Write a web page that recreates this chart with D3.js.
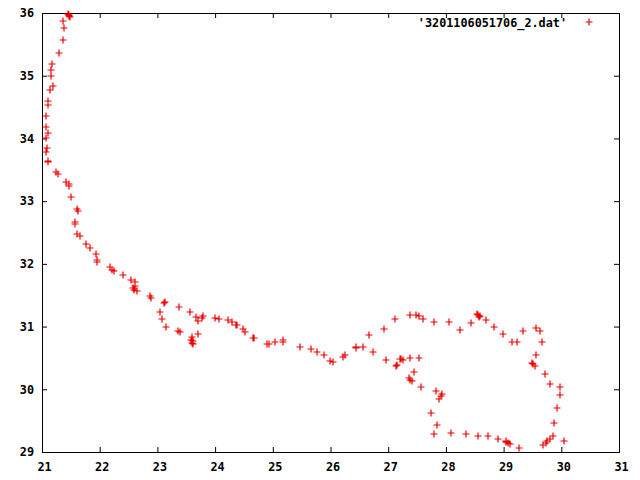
<!DOCTYPE html>
<html lang="en">
<head>
<meta charset="utf-8">
<title>3201106051706_2.dat</title>
<script src="https://cdn.jsdelivr.net/npm/d3@7"></script>
<style>
  body { margin: 0; padding: 0; background: #fff; overflow: hidden; }
  .tick text { font-family: "DejaVu Sans Mono", monospace; font-weight: bold; font-size: 11.8px; fill: #000; }
  .tick line { stroke: #000; stroke-width: 1px; }
  .frame { fill: none; stroke: #000; stroke-width: 1px; }
  .key { font-family: "DejaVu Sans Mono", monospace; font-weight: bold; font-size: 11.8px; }
</style>
</head>
<body>
<script>
// track points
var xs = [21.47,21.49,21.45,21.47,21.46,21.37,21.38,21.36,21.30,21.17,21.16,21.15,21.19,21.14,
  21.11,21.11,21.07,21.07,21.11,21.07,21.08,21.07,21.10,21.10,21.25,21.28,21.42,21.47,21.46,21.51,
  21.60,21.62,21.57,21.58,21.60,21.65,21.77,21.84,21.93,21.95,21.96,
  22.17,22.21,22.25,22.41,22.54,22.62,22.61,22.57,22.59,22.64,22.87,22.89,23.13,23.12,23.38,
  23.05,23.08,23.15,23.56,23.67,23.71,23.79,23.77,23.35,23.39,23.60,23.61,23.62,23.60,23.58,23.71,
  24.00,24.07,24.23,24.29,24.36,24.38,24.48,24.52,24.65,24.67,24.90,24.93,25.03,25.17,25.18,
  25.48,25.66,25.76,25.88,25.99,26.05,26.22,26.25,26.44,26.44,26.56,26.66,26.74,26.93,26.97,
  27.11,27.14,27.15,27.21,27.23,27.26,27.38,27.53,27.37,27.49,27.53,27.60,27.79,28.06,28.25,
  27.45,27.38,27.41,27.36,27.56,27.83,27.94,27.92,27.88,27.75,27.85,27.79,28.09,28.35,28.55,
  28.73,28.91,29.05,29.08,29.11,29.04,29.27,28.44,28.56,28.59,28.57,28.54,28.69,28.84,28.99,
  29.15,29.23,29.34,29.57,29.63,29.66,29.57,29.49,29.51,29.55,29.72,29.81,29.97,29.97,29.93,
  29.88,29.86,29.81,29.76,29.73,29.68,30.05];
var ys = [35.97,35.94,35.98,35.96,35.95,35.88,35.76,35.57,35.37,35.18,35.09,34.99,34.84,34.77,
  34.59,34.53,34.36,34.18,34.09,34.00,33.85,33.78,33.64,33.62,33.47,33.43,33.31,33.24,33.27,33.07,
  32.87,32.85,32.67,32.64,32.48,32.44,32.31,32.25,32.15,32.06,32.03,
  31.95,31.91,31.88,31.82,31.75,31.71,31.65,31.61,31.59,31.57,31.49,31.46,31.39,31.37,31.31,
  31.24,31.12,31.00,31.23,31.15,31.09,31.17,31.14,30.93,30.91,30.83,30.77,30.73,30.74,30.78,30.88,
  31.14,31.12,31.10,31.08,31.03,31.02,30.96,30.92,30.81,30.81,30.72,30.73,30.76,30.78,30.75,
  30.68,30.64,30.60,30.54,30.45,30.43,30.52,30.54,30.68,30.66,30.68,30.86,30.60,30.96,30.46,
  31.12,30.37,30.39,30.48,30.49,30.47,30.50,30.50,31.18,31.19,31.17,31.12,31.08,31.07,30.94,
  30.27,30.15,30.14,30.18,30.04,29.97,29.92,29.89,29.84,29.62,29.43,29.28,29.30,29.28,29.25,
  29.25,29.21,29.16,29.14,29.12,29.17,29.07,31.05,31.18,31.17,31.15,31.20,31.10,31.00,30.88,
  30.76,30.76,30.93,30.98,30.93,30.75,30.55,30.42,30.41,30.37,30.25,30.08,30.03,29.91,29.70,
  29.47,29.26,29.21,29.18,29.14,29.11,29.17];
var xTicks = [21,22,23,24,25,26,27,28,29,30,31];
var yTicks = [29,30,31,32,33,34,35,36];
var keyLabel = "'3201106051706_2.dat'";

var svg = d3.select('body').append('svg')
    .attr('width', 640)
    .attr('height', 480);

var x = d3.scaleLinear().domain([21, 31]).range([42, 619]);
var y = d3.scaleLinear().domain([29, 36]).range([452, 13]);

// axes, ticks point inwards and are mirrored on top/right
svg.append('g')
    .attr('transform', 'translate(0,452)')
    .call(d3.axisBottom(x).tickValues(xTicks).tickFormat(d3.format('d'))
      .tickSizeInner(-5).tickSizeOuter(0).tickPadding(11))
    .call(g => g.select('.domain').remove())
    .selectAll('text').attr('dx', 2);

svg.append('g')
    .attr('transform', 'translate(0,13)')
    .call(d3.axisTop(x).tickValues(xTicks).tickFormat('')
      .tickSizeInner(-5).tickSizeOuter(0))
    .call(g => g.select('.domain').remove());

svg.append('g')
    .attr('transform', 'translate(42,0)')
    .call(d3.axisLeft(y).tickValues(yTicks).tickFormat(d3.format('d'))
      .tickSizeInner(-5).tickSizeOuter(0).tickPadding(8))
    .call(g => g.select('.domain').remove());

svg.append('g')
    .attr('transform', 'translate(619,0)')
    .call(d3.axisRight(y).tickValues(yTicks).tickFormat('')
      .tickSizeInner(-5).tickSizeOuter(0))
    .call(g => g.select('.domain').remove());

svg.append('rect')
    .attr('class', 'frame')
    .attr('x', 42.5).attr('y', 13.5)
    .attr('width', 619 - 42).attr('height', 452 - 13);

// "+" markers, one path for all of them
var arm = 3.5;
function plusPath(list) {
  return list.map(d => {
    var cx = Math.round(d[0]), cy = Math.round(d[1]);
    return 'M' + (cx - arm) + ',' + cy + 'H' + (cx + arm) +
           'M' + cx + ',' + (cy - arm) + 'V' + (cy + arm);
  }).join('');
}

var pts = xs.map((v, i) => [x(v), y(ys[i])]);
svg.append('path')
    .attr('d', plusPath(pts))
    .attr('fill', 'none')
    .attr('stroke', '#ee0000')
    .attr('stroke-width', 1.2);

// key
svg.append('text')
    .attr('class', 'key')
    .attr('x', 567).attr('y', 27)
    .attr('text-anchor', 'end')
    .text(keyLabel);
svg.append('path')
    .attr('d', plusPath([[589, 22]]))
    .attr('fill', 'none')
    .attr('stroke', '#ee0000')
    .attr('stroke-width', 1.2);
</script>
</body>
</html>
